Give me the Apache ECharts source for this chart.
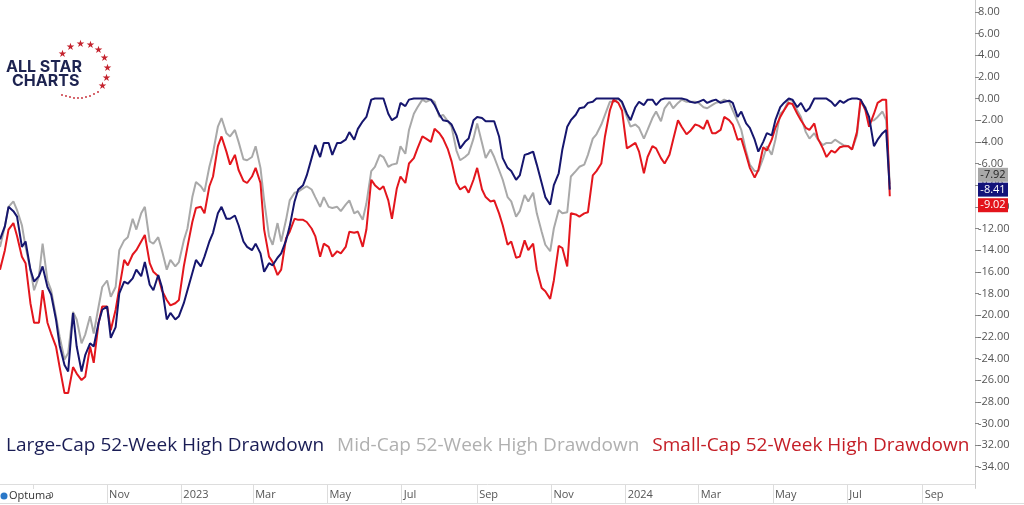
<!DOCTYPE html>
<html><head><meta charset="utf-8">
<script src="https://cdn.jsdelivr.net/npm/echarts@6/dist/echarts.min.js"></script>
<style>html,body{margin:0;padding:0;background:#fff}#c{width:1024px;height:505px}</style>
</head><body><div id="c"></div>
<script>
// ---- axis range ----
const axisStart = '2022-08-05';
const axisEnd = '2024-10-14';
const monthNames = ['Jan','Feb','Mar','Apr','May','Jun','Jul','Aug','Sep','Oct','Nov','Dec'];
const yTicks = { min: -36, max: 9.1, step: 2 };

// ---- sample dates: every Friday and the following Tuesday from 2022-08-05 to 2024-08-02, then 2024-08-05 ----
const firstSample = '2022-08-05';
const lastFriday = '2024-08-02';
const finalDay = '2024-08-05';

// ---- series values (% below 52-week high), one per sample date ----
const largeCap = [
 -13.0,-11.8,-10.0,-10.4,-10.9,-13.7,-13.2,-15.8,-16.9,-16.4,
 -15.5,-17.4,-18.1,-20.4,-22.8,-24.6,-25.2,-19.8,-22.9,-25.2,
 -23.7,-22.6,-22.9,-20.7,-19.5,-19.2,-22.1,-21.1,-18.0,-16.9,
 -17.1,-16.6,-15.8,-16.4,-15.1,-17.2,-17.7,-16.3,-17.4,-20.4,
 -19.8,-20.4,-20.1,-18.9,-17.7,-16.1,-14.9,-15.5,-14.6,-13.2,
 -12.4,-10.6,-10.0,-11.1,-11.1,-10.8,-11.7,-13.2,-13.7,-14.0,
 -13.4,-14.3,-16.0,-15.2,-15.4,-14.7,-14.3,-13.1,-11.8,-9.5,
 -8.4,-8.0,-7.1,-5.5,-4.3,-5.4,-4.1,-4.1,-5.2,-4.1,
 -4.1,-3.8,-3.1,-3.8,-2.8,-2.1,-1.7,-0.1,0.0,0.0,
 0.0,-1.4,-2.0,-1.7,-0.4,-0.7,-0.1,0.0,0.0,0.0,
 0.0,-0.1,-0.6,-1.5,-2.0,-2.1,-2.4,-3.4,-4.6,-4.0,
 -3.7,-2.0,-1.7,-1.8,-2.1,-2.1,-2.1,-3.5,-5.5,-6.4,
 -6.7,-7.5,-7.1,-5.2,-5.1,-4.9,-6.1,-7.8,-9.1,-9.8,
 -8.0,-6.9,-4.7,-2.6,-2.0,-1.5,-0.9,-0.8,-0.4,-0.3,
 0.0,0.0,0.0,0.0,0.0,0.0,-0.3,-1.4,-2.0,-0.8,
 -0.3,-0.6,-0.1,-0.1,-0.6,-0.1,0.0,0.0,0.0,0.0,
 0.0,-0.1,-0.3,-0.4,-0.3,-0.1,-0.4,-0.2,-0.1,-0.4,
 -0.3,-0.2,-0.4,-1.7,-1.2,-2.3,-2.7,-3.8,-4.9,-4.0,
 -3.2,-3.4,-2.0,-0.8,-0.4,0.0,-0.1,-0.8,-0.4,-1.2,
 -0.9,0.0,0.0,0.0,0.0,-0.3,-0.7,-0.2,-0.4,-0.1,
 0.0,0.0,-0.1,-0.9,-1.7,-4.4,-3.8,-3.2,-2.9,-8.41
];
const midCap = [
 -13.7,-11.8,-10.0,-9.5,-10.3,-11.7,-13.7,-15.8,-17.7,-16.4,
 -13.4,-16.8,-17.7,-20.1,-22.0,-24.1,-23.5,-19.7,-20.4,-22.6,
 -21.8,-20.1,-21.7,-19.2,-17.4,-16.8,-18.3,-17.4,-14.0,-13.1,
 -12.8,-11.1,-12.1,-10.6,-10.0,-13.2,-13.4,-12.8,-14.0,-15.8,
 -14.9,-15.5,-15.1,-13.1,-12.0,-9.1,-7.7,-8.1,-8.6,-6.3,
 -5.0,-2.6,-1.8,-3.2,-3.5,-2.9,-4.0,-5.6,-5.7,-5.4,
 -4.4,-6.4,-9.4,-12.7,-13.5,-11.5,-13.2,-11.2,-9.4,-8.7,
 -8.6,-8.3,-8.1,-8.4,-9.1,-10.0,-9.1,-10.0,-10.1,-10.0,
 -10.4,-9.8,-9.4,-10.6,-10.4,-11.2,-9.7,-6.7,-6.3,-5.2,
 -5.4,-6.3,-6.1,-6.0,-4.4,-5.1,-2.9,-1.4,-0.8,-0.1,
 -0.3,-0.1,-0.3,-1.7,-1.5,-2.1,-2.6,-4.8,-5.7,-5.4,
 -5.1,-3.7,-2.3,-4.1,-5.5,-4.7,-5.4,-6.6,-7.5,-9.1,
 -9.5,-10.9,-10.4,-8.9,-9.5,-8.7,-10.6,-12.3,-13.5,-14.1,
 -12.0,-10.3,-10.6,-10.5,-7.2,-6.7,-6.3,-6.1,-5.2,-3.7,
 -3.3,-2.4,-1.5,-0.3,-0.3,0.0,-0.4,-1.7,-2.6,-2.4,
 -2.7,-3.7,-2.9,-1.8,-1.2,-2.1,-0.9,-0.3,-0.9,-0.4,
 -0.1,-0.3,-0.3,-0.3,-0.4,-0.8,-0.9,-0.6,-0.4,-0.3,
 -0.1,-0.3,-1.1,-2.1,-2.9,-4.9,-6.1,-6.7,-6.7,-5.5,
 -4.4,-5.2,-3.8,-1.4,-1.1,-0.1,-0.2,-1.1,-1.7,-3.1,
 -3.7,-3.2,-3.8,-4.3,-4.1,-4.1,-3.8,-4.1,-4.3,-4.4,
 -4.7,-3.4,-0.3,-0.8,-2.1,-2.0,-1.7,-1.2,-2.0,-7.92
];
const smallCap = [
 -15.8,-14.0,-12.1,-11.5,-12.7,-14.6,-15.2,-18.9,-20.7,-20.7,
 -17.7,-20.7,-21.7,-22.9,-24.8,-27.2,-27.2,-24.8,-25.4,-26.0,
 -25.7,-22.9,-24.4,-20.7,-19.2,-19.2,-21.4,-19.5,-17.5,-14.9,
 -15.4,-14.4,-14.0,-13.2,-12.6,-15.2,-16.0,-16.4,-17.7,-18.6,
 -19.1,-18.9,-18.6,-15.5,-13.7,-11.4,-10.1,-10.0,-10.6,-8.1,
 -7.2,-4.4,-3.5,-4.9,-6.1,-5.2,-6.6,-7.6,-7.8,-7.2,
 -6.4,-7.8,-12.1,-14.6,-15.1,-16.3,-15.8,-12.9,-12.3,-11.1,
 -11.2,-11.2,-11.4,-12.0,-12.7,-14.6,-13.4,-13.7,-14.6,-14.1,
 -14.3,-13.7,-12.3,-12.4,-12.3,-13.7,-12.1,-7.5,-8.0,-8.4,
 -8.1,-9.4,-11.1,-8.3,-7.2,-7.8,-6.0,-5.5,-4.6,-3.5,
 -3.7,-4.0,-2.8,-3.2,-3.7,-4.7,-5.8,-7.8,-8.4,-8.1,
 -8.7,-7.5,-6.4,-8.4,-9.1,-9.5,-9.4,-10.6,-11.7,-13.5,
 -13.2,-14.7,-14.6,-13.1,-14.0,-13.4,-15.8,-17.5,-17.8,-18.5,
 -16.8,-13.6,-13.8,-15.5,-10.6,-10.7,-10.9,-10.6,-10.5,-7.1,
 -6.7,-6.0,-3.5,-1.1,-0.1,-0.4,-1.1,-4.6,-4.4,-4.1,
 -4.9,-6.9,-5.4,-4.4,-4.6,-5.5,-6.0,-5.2,-3.8,-2.0,
 -2.6,-3.3,-3.0,-2.4,-2.5,-2.8,-2.0,-3.2,-3.2,-2.9,
 -1.7,-2.0,-2.4,-3.8,-3.7,-5.2,-6.4,-7.3,-6.6,-4.5,
 -4.8,-3.8,-2.7,-1.7,-1.1,-0.4,-0.5,-1.4,-2.0,-2.7,
 -2.9,-2.3,-3.7,-4.6,-5.4,-4.8,-5.0,-4.5,-4.4,-4.4,
 -4.7,-3.1,-0.1,-1.1,-2.6,-1.4,-0.4,-0.1,-0.1,-9.02
];
const seriesNames = ['Large-Cap 52-Week High Drawdown','Mid-Cap 52-Week High Drawdown','Small-Cap 52-Week High Drawdown'];

// ---- helpers ----
const DAY = 86400000;
const iso = t => new Date(t).toISOString().slice(0, 10);
const ms = d => Date.parse(d + 'T00:00:00Z');

const sampleDates = [];
for (let t = ms(firstSample); t <= ms(lastFriday); t += 7 * DAY) {
  sampleDates.push(iso(t));
  if (t + 7 * DAY <= ms(lastFriday)) sampleDates.push(iso(t + 4 * DAY));
}
sampleDates.push(finalDay);

const days = [];
for (let t = ms(axisStart); t <= ms(axisEnd); t += DAY) days.push(iso(t));
function isTickDay(d) { return d.slice(8) === '01' && (+d.slice(5, 7)) % 2 === 1; }
function toDaily(vals) {
  const m = {};
  sampleDates.forEach((d, i) => { m[d] = vals[i]; });
  return days.map(d => (d in m ? m[d] : null));
}

const lineColors = ['#16166e', '#a9a9a9', '#e3161d'];
const textColors = ['#1a1d55', '#b0b0b0', '#c41e26'];
const badgeBg = ['#13137a', '#a8a8a8', '#e3141b'];
const badgeText = ['#ffffff', '#222222', '#ffffff'];
const badgeShift = [0, -9.5, 9];
const allVals = [largeCap, midCap, smallCap];
const drawOrder = [1, 2, 0];

const chart = echarts.init(document.getElementById('c'), null, { renderer: 'canvas' });

const series = drawOrder.map(i => {
  const v = allVals[i];
  const last = v[v.length - 1];
  return {
    name: seriesNames[i],
    type: 'line',
    data: toDaily(v),
    connectNulls: true,
    showSymbol: false,
    symbol: 'none',
    animation: false,
    lineStyle: { color: lineColors[i], width: 2 },
    itemStyle: { color: lineColors[i] },
    z: 2,
    markPoint: {
      silent: true,
      animation: false,
      symbol: 'rect',
      symbolSize: [30, 14],
      symbolOffset: [18, badgeShift[i]],
      itemStyle: { color: badgeBg[i] },
      label: { show: true, position: 'inside', color: badgeText[i], fontSize: 11, fontFamily: 'Open Sans', formatter: last.toFixed(2) },
      data: [{ coord: [axisEnd, last] }]
    }
  };
});

const stars = [];
const starPos = [[62,54],[70,47],[80,44],[90,45],[98,50],[104,58],[107,68],[106,78],[102,86]];
starPos.forEach(p => stars.push({ type: 'text', x: p[0], y: p[1], z: 50, style: { text: '\u2605', fill: '#c4232e', fontSize: 10, align: 'center', verticalAlign: 'middle' }, silent: true }));
const dotPos = [[98,92],[94,94],[90,96],[86,97],[82,98],[78,98],[74,98],[70,97],[66,96],[62,95]];
dotPos.forEach(p => stars.push({ type: 'circle', z: 50, shape: { cx: p[0], cy: p[1], r: 0.9 }, style: { fill: '#c4232e' }, silent: true }));

chart.setOption({
  backgroundColor: '#ffffff',
  animation: false,
  grid: { left: 0, right: 49, top: 0, bottom: 16.6, containLabel: false },
  legend: {
    left: 1, top: 436, padding: 0, icon: 'none', itemWidth: 0, itemHeight: 0, itemGap: 8,
    selectedMode: false,
    textStyle: { fontSize: 19, fontFamily: 'Open Sans' },
    data: seriesNames.map((n, i) => ({ name: n, textStyle: { color: textColors[i] } }))
  },
  xAxis: {
    type: 'category',
    data: days,
    boundaryGap: false,
    offset: -4.4,
    axisLine: { show: true, onZero: false, lineStyle: { color: '#dddddd', width: 1 } },
    axisTick: { show: true, length: 19, interval: (i, v) => isTickDay(v), lineStyle: { color: '#dddddd' } },
    axisLabel: {
      show: true, interval: (i, v) => isTickDay(v), align: 'left', margin: 5, padding: [0, 0, 0, 2],
      color: '#555555', fontSize: 11, fontFamily: 'Open Sans',
      formatter: v => { const m = +v.slice(5, 7); return m === 1 ? v.slice(0, 4) : monthNames[m - 1]; }
    },
    splitLine: { show: false }
  },
  yAxis: {
    type: 'value',
    position: 'right',
    min: yTicks.min, max: yTicks.max, interval: yTicks.step,
    axisLine: { show: true, lineStyle: { color: '#cccccc' } },
    axisTick: { show: true, length: 4, lineStyle: { color: '#888888' } },
    axisLabel: {
      show: true, margin: 3, color: '#555555', fontSize: 11, fontFamily: 'Open Sans',
      showMinLabel: false, showMaxLabel: false,
      formatter: v => v.toFixed(2)
    },
    splitLine: { show: false }
  },
  series: series,
  graphic: [
    { type: 'line', z: 50, shape: { x1: 0, y1: 503.5, x2: 1024, y2: 503.5 }, style: { stroke: '#dddddd', lineWidth: 1 }, silent: true },
    { type: 'text', z: 50, x: 6, y: 67, style: { text: 'ALL STAR', fill: '#1d2350', fontSize: 16, fontWeight: 'bold', fontFamily: 'Inter', verticalAlign: 'middle', letterSpacing: 3.2 }, silent: true },
    { type: 'text', z: 50, x: 12, y: 81, style: { text: 'CHARTS', fill: '#1d2350', fontSize: 16, fontWeight: 'bold', fontFamily: 'Inter', verticalAlign: 'middle', letterSpacing: 3.2 }, silent: true },
    ...stars,
    { type: 'rect', z: 100, shape: { x: 0, y: 489, width: 50, height: 14 }, style: { fill: '#ffffff' }, silent: true },
    { type: 'circle', z: 101, shape: { cx: 4, cy: 496, r: 3.5 }, style: { fill: '#2a78c8' }, silent: true },
    { type: 'text', z: 101, x: 9, y: 496, style: { text: 'Optuma', fill: '#333333', fontSize: 11, fontFamily: 'Open Sans', verticalAlign: 'middle' }, silent: true }
  ]
});
</script>
</body></html>
